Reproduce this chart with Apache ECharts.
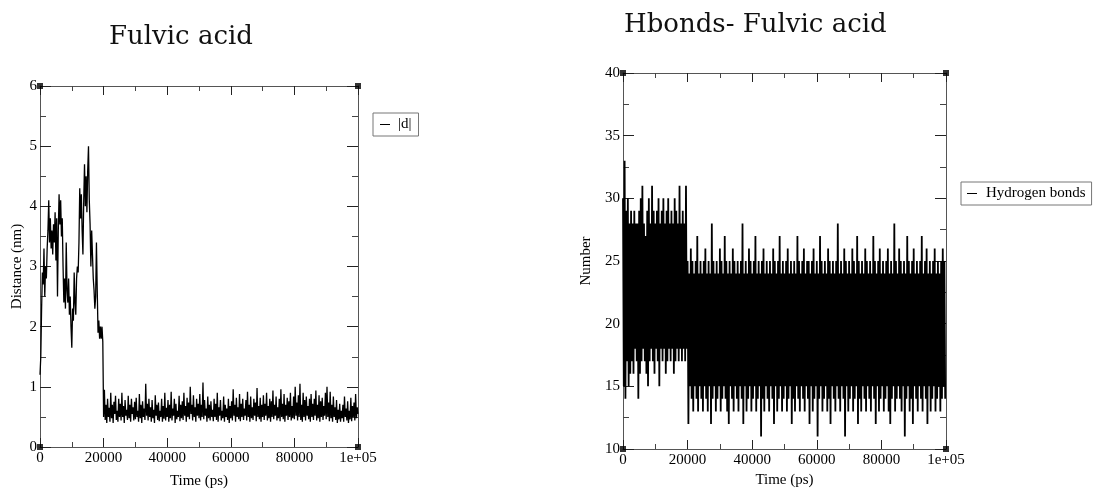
<!DOCTYPE html>
<html>
<head>
<meta charset="utf-8">
<script src="https://cdn.jsdelivr.net/npm/echarts@6/dist/echarts.min.js"></script>
<style>
  html, body { margin: 0; padding: 0; background: #fff; }
  #chart { width: 1093px; height: 489px; }
</style>
</head>
<body>
<div id="chart"></div>
<script>
// ---------------- DATA ----------------
const titles = ['Fulvic acid', 'Hbonds- Fulvic acid'];
const seriesNames = ['|d|', 'Hydrogen bonds'];
const axisNames = { time: 'Time (ps)', distance: 'Distance (nm)', number: 'Number' };
const timeRange = [0, 100000];
const distRange = [0, 6];
const numberRange = [10, 40];

// distance |d| (nm), one value every 250 ps from 0 to 100000 ps
const distStep = 250;
const distance = [
  1.2, 1.5, 2.3, 2.9, 2.7, 3.3, 2.5, 3.0, 2.8, 3.3,
  3.6, 4.1, 3.4, 3.8, 3.3, 3.6, 3.2, 3.7, 3.4, 3.9,
  3.1, 3.8, 2.5, 3.6, 4.2, 3.7, 4.1, 3.5, 3.8, 3.0,
  2.4, 2.8, 2.3, 3.4, 2.6, 2.4, 2.8, 2.2, 2.5, 2.0,
  1.65, 2.3, 2.1, 2.9, 2.4, 2.2, 2.8, 3.0, 2.9, 3.4,
  4.3, 3.8, 4.2, 3.6, 3.2, 4.1, 4.7, 4.0, 4.5, 3.9,
  4.6, 5.0, 4.1, 3.7, 3.0, 3.6, 3.2, 2.8, 2.6, 2.3,
  2.5, 3.4, 2.6, 1.9, 2.1, 1.8, 2.0, 1.8, 2.0, 1.75,
  // 20000 ps onward
  0.5, 0.95, 0.45, 0.7, 0.4, 0.8, 0.5, 0.65, 0.42, 0.9, 0.48, 0.7, 0.4, 0.75, 0.55, 0.85, 0.45, 0.6, 0.42, 0.8,
  0.5, 0.72, 0.44, 0.9, 0.5, 0.68, 0.4, 0.78, 0.52, 0.62, 0.45, 0.85, 0.48, 0.7, 0.42, 0.8, 0.55, 0.66, 0.44, 0.75,
  0.46, 0.82, 0.5, 0.6, 0.42, 0.88, 0.48, 0.7, 0.4, 0.76, 0.5, 0.64, 0.45, 1.05, 0.52, 0.72, 0.44, 0.8, 0.5, 0.66,
  0.42, 0.78, 0.48, 0.62, 0.4, 0.86, 0.52, 0.7, 0.45, 0.74, 0.43, 0.6, 0.5, 0.8, 0.42, 0.68, 0.47, 0.9, 0.44, 0.65,
  0.5, 0.78, 0.42, 0.7, 0.48, 0.92, 0.44, 0.64, 0.52, 0.8, 0.4, 0.72, 0.46, 0.6, 0.5, 0.85, 0.43, 0.7, 0.48, 0.76,
  0.45, 0.9, 0.52, 0.68, 0.42, 0.82, 0.5, 0.74, 0.46, 1.0, 0.55, 0.7, 0.44, 0.86, 0.5, 0.66, 0.42, 0.8, 0.52, 0.72,
  0.48, 0.88, 0.44, 0.7, 0.5, 1.07, 0.46, 0.78, 0.52, 0.64, 0.42, 0.84, 0.48, 0.7, 0.44, 0.76, 0.5, 0.62, 0.43, 0.8,
  0.5, 0.72, 0.45, 0.9, 0.42, 0.66, 0.52, 0.78, 0.44, 0.6, 0.48, 0.84, 0.42, 0.7, 0.5, 0.64, 0.45, 0.8, 0.4, 0.68,
  0.48, 0.76, 0.44, 0.96, 0.52, 0.7, 0.42, 0.82, 0.5, 0.66, 0.46, 0.88, 0.43, 0.72, 0.5, 0.8, 0.45, 0.64, 0.52, 0.78,
  0.44, 0.92, 0.5, 0.7, 0.42, 0.84, 0.48, 0.66, 0.45, 0.8, 0.52, 0.74, 0.43, 0.98, 0.5, 0.68, 0.46, 0.82, 0.42, 0.7,
  0.5, 0.86, 0.45, 0.72, 0.52, 0.9, 0.44, 0.68, 0.48, 0.8, 0.42, 0.76, 0.5, 0.94, 0.46, 0.7, 0.52, 0.84, 0.44, 0.66,
  0.48, 0.8, 0.43, 0.96, 0.5, 0.72, 0.46, 0.88, 0.42, 0.7, 0.52, 0.82, 0.45, 0.76, 0.5, 0.9, 0.44, 0.68, 0.48, 0.84,
  0.46, 1.0, 0.52, 0.74, 0.44, 0.86, 0.5, 1.05, 0.45, 0.7, 0.42, 0.9, 0.5, 0.78, 0.44, 0.84, 0.52, 0.68, 0.46, 0.8,
  0.42, 0.88, 0.5, 0.72, 0.45, 0.8, 0.52, 0.94, 0.44, 0.7, 0.48, 0.86, 0.42, 0.76, 0.5, 0.82, 0.45, 0.68, 0.52, 0.9,
  0.46, 1.0, 0.5, 0.74, 0.43, 0.92, 0.48, 0.7, 0.42, 0.84, 0.5, 0.66, 0.45, 0.78, 0.4, 0.62, 0.46, 0.72, 0.42, 0.6,
  0.48, 0.7, 0.42, 0.84, 0.5, 0.64, 0.44, 0.76, 0.4, 0.6, 0.46, 0.82, 0.43, 0.68, 0.5, 0.74, 0.44, 0.88, 0.48, 0.66,
  0.55
];

// hydrogen bonds: alternating samples every 250 ps (peak frame, then trough frame)
const hbStep = 250;
const hbHigh = [
  30, 33, 29, 30, 28, 29, 28, 29, 28, 28, 29, 30, 31, 28, 27, 29, 30, 28, 31, 29,
  28, 29, 30, 28, 29, 30, 28, 29, 30, 28, 29, 28, 30, 29, 28, 31, 28, 29, 28, 31,
  25, 24, 26, 25, 24, 25, 27, 24, 25, 24, 25, 26, 24, 25, 24, 28, 25, 24, 25, 24,
  26, 25, 24, 27, 25, 24, 25, 24, 26, 25, 24, 25, 24, 25, 28, 24, 25, 24, 26, 25,
  24, 25, 27, 24, 25, 24, 25, 26, 24, 25, 24, 25, 24, 26, 25, 24, 25, 27, 24, 25,
  24, 25, 26, 24, 25, 24, 25, 24, 27, 25, 24, 25, 26, 24, 25, 25, 24, 25, 26, 24,
  25, 24, 27, 25, 24, 25, 24, 26, 25, 24, 25, 24, 25, 28, 24, 25, 24, 26, 25, 24,
  25, 24, 26, 25, 24, 27, 25, 24, 25, 24, 26, 25, 24, 25, 24, 27, 25, 24, 25, 26,
  24, 25, 24, 25, 26, 24, 25, 24, 28, 25, 24, 26, 25, 24, 25, 24, 27, 25, 24, 25,
  26, 24, 25, 24, 25, 27, 24, 25, 26, 24, 25, 24, 25, 26, 24, 25, 24, 25, 26, 25
];
const hbLow = [
  15, 14, 17, 15, 16, 17, 16, 18, 17, 14, 16, 17, 18, 17, 16, 15, 17, 18, 17, 16,
  18, 17, 15, 18, 17, 18, 16, 17, 18, 17, 18, 16, 17, 18, 17, 18, 17, 18, 17, 18,
  12, 15, 14, 13, 15, 14, 13, 15, 14, 13, 15, 14, 13, 15, 12, 14, 15, 13, 14, 15,
  13, 14, 15, 14, 13, 12, 15, 14, 13, 15, 14, 13, 15, 14, 12, 15, 13, 14, 15, 13,
  14, 15, 13, 14, 15, 11, 14, 13, 15, 14, 13, 15, 14, 12, 15, 13, 14, 15, 13, 14,
  15, 13, 14, 15, 12, 14, 13, 15, 14, 13, 15, 14, 13, 15, 14, 12, 15, 13, 14, 15,
  11, 14, 15, 13, 14, 15, 13, 14, 12, 15, 14, 13, 15, 14, 13, 15, 14, 11, 15, 13,
  14, 15, 13, 14, 15, 12, 14, 13, 15, 14, 13, 15, 14, 13, 15, 14, 12, 15, 13, 14,
  15, 13, 14, 15, 13, 12, 14, 15, 13, 14, 15, 14, 13, 15, 11, 14, 15, 13, 14, 12,
  15, 14, 13, 15, 14, 13, 15, 14, 12, 15, 13, 14, 15, 13, 14, 15, 13, 14, 15, 14
];

// ---------------- BUILD ----------------
const distData = distance.map((v, i) => [i * distStep, v]);
const hbData = [];
for (let i = 0; i < hbHigh.length; i++) {
  hbData.push([2 * i * hbStep, hbHigh[i]]);
  hbData.push([(2 * i + 1) * hbStep, hbLow[i]]);
}

const FRAME = '#555';
const SERIF = '"Liberation Serif", "Times New Roman", serif';
const TITLE_FONT = '"DejaVu Serif", serif';
const fmtTime = v => (v === 100000 ? '1e+05' : String(v));

function xAxes(grid, nameGap) {
  return [
    {
      type: 'value', gridIndex: grid, min: timeRange[0], max: timeRange[1], interval: 20000,
      position: 'bottom',
      name: axisNames.time, nameLocation: 'middle', nameGap: nameGap,
      nameTextStyle: { fontFamily: SERIF, fontSize: 15, color: '#000' },
      axisLine: { show: true, onZero: false, lineStyle: { color: FRAME, width: 1 } },
      axisTick: { show: true, inside: true, length: 9, lineStyle: { color: '#222' } },
      minorTick: { show: true, splitNumber: 2, length: 5, lineStyle: { color: '#444' } },
      axisLabel: { formatter: fmtTime, fontFamily: SERIF, fontSize: 15, color: '#000', margin: 4 },
      splitLine: { show: false }
    },
    {
      type: 'value', gridIndex: grid, min: timeRange[0], max: timeRange[1], interval: 20000,
      position: 'top',
      axisLine: { show: true, onZero: false, lineStyle: { color: FRAME, width: 1 } },
      axisTick: { show: true, inside: true, length: 9, lineStyle: { color: '#222' } },
      minorTick: { show: true, splitNumber: 2, length: 5, lineStyle: { color: '#444' } },
      axisLabel: { show: false },
      splitLine: { show: false }
    }
  ];
}

function yAxes(grid, range, interval, name, nameGap) {
  return [
    {
      type: 'value', gridIndex: grid, min: range[0], max: range[1], interval: interval,
      position: 'left',
      name: name, nameLocation: 'middle', nameGap: nameGap,
      nameTextStyle: { fontFamily: SERIF, fontSize: 15, color: '#000' },
      axisLine: { show: true, onZero: false, lineStyle: { color: FRAME, width: 1 } },
      axisTick: { show: true, inside: true, length: 11, lineStyle: { color: '#222' } },
      minorTick: { show: true, splitNumber: 2, length: 6, lineStyle: { color: '#444' } },
      axisLabel: { fontFamily: SERIF, fontSize: 15, color: '#000', margin: 3 },
      splitLine: { show: false }
    },
    {
      type: 'value', gridIndex: grid, min: range[0], max: range[1], interval: interval,
      position: 'right',
      axisLine: { show: true, onZero: false, lineStyle: { color: FRAME, width: 1 } },
      axisTick: { show: true, inside: true, length: 11, lineStyle: { color: '#222' } },
      minorTick: { show: true, splitNumber: 2, length: 6, lineStyle: { color: '#444' } },
      axisLabel: { show: false },
      splitLine: { show: false }
    }
  ];
}

function corners(xi, yi, xr, yr) {
  return {
    type: 'scatter', xAxisIndex: xi, yAxisIndex: yi, clip: false, silent: true,
    symbol: 'rect', symbolSize: 6, itemStyle: { color: '#000' },
    data: [[xr[0], yr[0]], [xr[1], yr[0]], [xr[0], yr[1]], [xr[1], yr[1]]],
    z: 5
  };
}

const chart = echarts.init(document.getElementById('chart'), null, { renderer: 'canvas' });
chart.setOption({
  animation: false,
  backgroundColor: '#fff',
  title: [
    { text: titles[0], left: 104, top: 19,
      textStyle: { fontFamily: TITLE_FONT, fontSize: 26, fontWeight: 'normal', color: '#111' } },
    { text: titles[1], left: 619, top: 7,
      textStyle: { fontFamily: TITLE_FONT, fontSize: 26, fontWeight: 'normal', color: '#111' } }
  ],
  legend: [
    { data: [seriesNames[0]], left: 373, top: 113, orient: 'vertical',
      icon: 'rect', itemWidth: 10, itemHeight: 1, itemGap: 4,
      padding: [4, 7, 4, 7], borderColor: '#777', borderWidth: 1,
      textStyle: { fontFamily: SERIF, fontSize: 15, color: '#000', padding: [0, 0, 0, 3] } },
    { data: [seriesNames[1]], left: 961, top: 182, orient: 'vertical',
      icon: 'rect', itemWidth: 10, itemHeight: 1, itemGap: 4,
      padding: [4, 6, 4, 6], borderColor: '#777', borderWidth: 1,
      textStyle: { fontFamily: SERIF, fontSize: 15, color: '#000', padding: [0, 0, 0, 4] } }
  ],
  grid: [
    { left: 40, right: 735, top: 86, bottom: 42, containLabel: false, outerBoundsMode: 'none' },
    { left: 623, right: 147, top: 73, bottom: 40, containLabel: false, outerBoundsMode: 'none' }
  ],
  xAxis: [...xAxes(0, 27), ...xAxes(1, 24)],
  yAxis: [...yAxes(0, distRange, 1, axisNames.distance, 15), ...yAxes(1, numberRange, 5, axisNames.number, 29)],
  series: [
    { name: seriesNames[0], type: 'line', xAxisIndex: 0, yAxisIndex: 0, data: distData,
      showSymbol: false, symbol: 'none', lineStyle: { color: '#000', width: 1.3 }, itemStyle: { color: '#000' } },
    { name: seriesNames[1], type: 'line', xAxisIndex: 2, yAxisIndex: 2, data: hbData,
      showSymbol: false, symbol: 'none', lineStyle: { color: '#000', width: 1.8 }, itemStyle: { color: '#000' } },
    corners(0, 0, timeRange, distRange),
    corners(2, 2, timeRange, numberRange)
  ]
});
</script>
</body>
</html>
